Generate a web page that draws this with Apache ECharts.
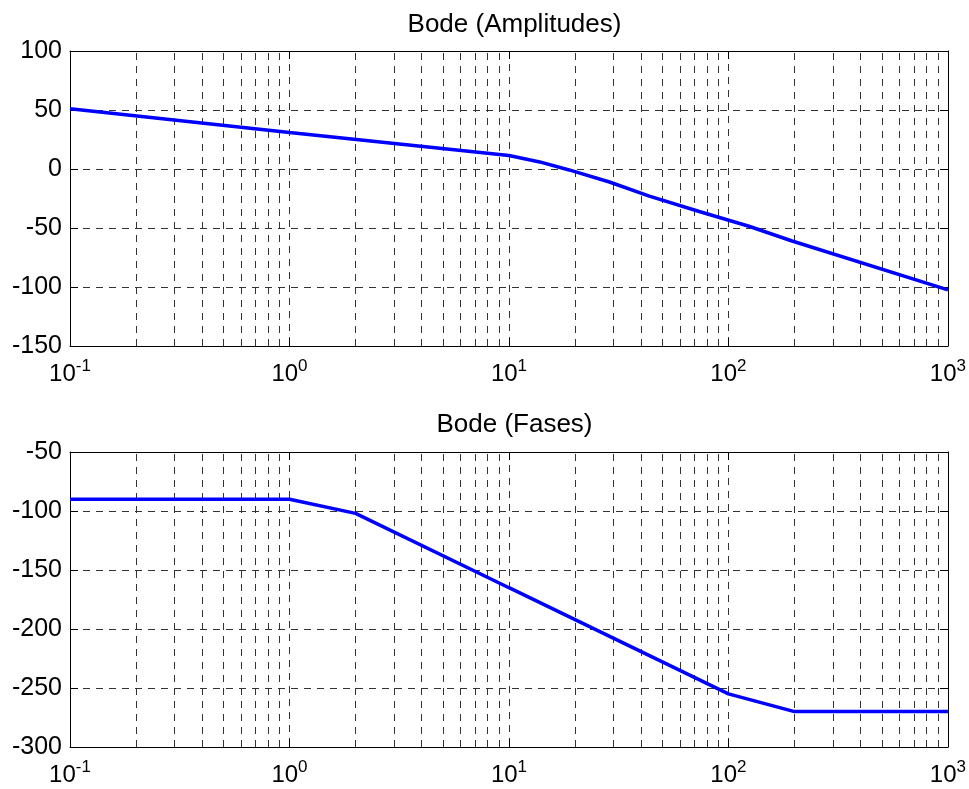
<!DOCTYPE html>
<html>
<head>
<meta charset="utf-8">
<script src="https://cdn.jsdelivr.net/npm/echarts@6/dist/echarts.min.js"></script>
<style>html,body{margin:0;padding:0;background:#fff}#c{width:969px;height:789px}</style>
</head>
<body>
<div id="c"></div>
<script>
// ---- data ----
const magFreq = [0.1, 1, 10, 13.8, 18.8, 28.7, 43.6, 73.6, 124, 195, 1000];
const magDb   = [51, 31, 11.5, 6, -0.8, -11, -23, -36, -48.5, -61, -102.5];
const phFreq  = [0.1, 1, 2, 10, 100, 200, 1000];
const phDeg   = [-90, -90, -102, -165, -255, -270, -270];
const titles  = ['Bode (Amplitudes)', 'Bode (Fases)'];
const decades = [0.1, 1, 10, 100];
const minorMult = [2, 3, 4, 5, 6, 7, 8, 9];
const magRange = [-150, 100];
const phRange  = [-300, -50];

const minorVals = [];
decades.forEach(d => minorMult.forEach(m => minorVals.push(+(d * m).toPrecision(3))));

const FONT = 'Liberation Sans, Arial, sans-serif';
const gridLine = { show: true, lineStyle: { color: '#333', type: [7, 6], width: 1 } };

function xAxisDef(gi, pos) {
  const bottom = pos === 'bottom';
  return {
    type: 'log', logBase: 10, min: 0.1, max: 1000, gridIndex: gi, position: pos,
    axisLine: { show: true, onZero: false, lineStyle: { color: '#000', width: 1 } },
    axisTick: { show: true, inside: true, length: 8, lineStyle: { color: '#000' } },
    splitLine: bottom ? gridLine : { show: false },
    minorTick: { show: false }, minorSplitLine: { show: false },
    axisLabel: bottom ? {
      show: true, margin: 12, showMinLabel: true, showMaxLabel: true,
      formatter: v => '{b|10}{s|' + Math.round(Math.log10(v)) + '}',
      rich: {
        b: { fontSize: 24, fontFamily: FONT, color: '#000', lineHeight: 26, padding: [6, 0, 0, 0] },
        s: { fontSize: 17, fontFamily: FONT, color: '#000', lineHeight: 17, verticalAlign: 'top' }
      }
    } : { show: false }
  };
}
function yAxisDef(gi, pos, range) {
  const left = pos === 'left';
  return {
    type: 'value', gridIndex: gi, position: pos, min: range[0], max: range[1], interval: 50,
    axisLine: { show: true, onZero: false, lineStyle: { color: '#000', width: 1 } },
    axisTick: { show: true, inside: true, length: 8, lineStyle: { color: '#000' } },
    splitLine: left ? gridLine : { show: false },
    axisLabel: left ? { show: true, margin: 8, fontSize: 25, fontFamily: FONT, color: '#000', padding: [4, 0, 0, 0] } : { show: false }
  };
}
function minorGrid(xi, yi) {
  return {
    type: 'line', xAxisIndex: xi, yAxisIndex: yi, data: [], z: 1, silent: true,
    markLine: {
      z: 1, silent: true, symbol: 'none', animation: false,
      label: { show: false },
      lineStyle: { color: '#333', type: [7, 6], width: 1 },
      emphasis: { disabled: true },
      data: minorVals.map(v => ({ xAxis: v }))
    }
  };
}

const chart = echarts.init(document.getElementById('c'), null, { renderer: 'canvas' });
chart.setOption({
  animation: false,
  backgroundColor: '#fff',
  title: [
    { text: titles[0], left: 509.5, top: 7, textAlign: 'center',
      textStyle: { fontSize: 26, fontWeight: 'normal', fontFamily: FONT, color: '#000' } },
    { text: titles[1], left: 509.5, top: 407, textAlign: 'center',
      textStyle: { fontSize: 26, fontWeight: 'normal', fontFamily: FONT, color: '#000' } }
  ],
  grid: [
    { left: 70, top: 51, width: 879, height: 295, containLabel: false },
    { left: 70, top: 452, width: 879, height: 295, containLabel: false }
  ],
  xAxis: [xAxisDef(0, 'bottom'), xAxisDef(0, 'top'), xAxisDef(1, 'bottom'), xAxisDef(1, 'top')],
  yAxis: [yAxisDef(0, 'left', magRange), yAxisDef(0, 'right', magRange),
          yAxisDef(1, 'left', phRange), yAxisDef(1, 'right', phRange)],
  series: [
    minorGrid(0, 0),
    minorGrid(2, 2),
    { type: 'line', xAxisIndex: 0, yAxisIndex: 0, z: 5, showSymbol: false, symbol: 'none',
      lineStyle: { color: '#0000ff', width: 3.5 },
      data: magFreq.map((f, i) => [f, magDb[i]]) },
    { type: 'line', xAxisIndex: 2, yAxisIndex: 2, z: 5, showSymbol: false, symbol: 'none',
      lineStyle: { color: '#0000ff', width: 3.5 },
      data: phFreq.map((f, i) => [f, phDeg[i]]) }
  ]
});
</script>
</body>
</html>
